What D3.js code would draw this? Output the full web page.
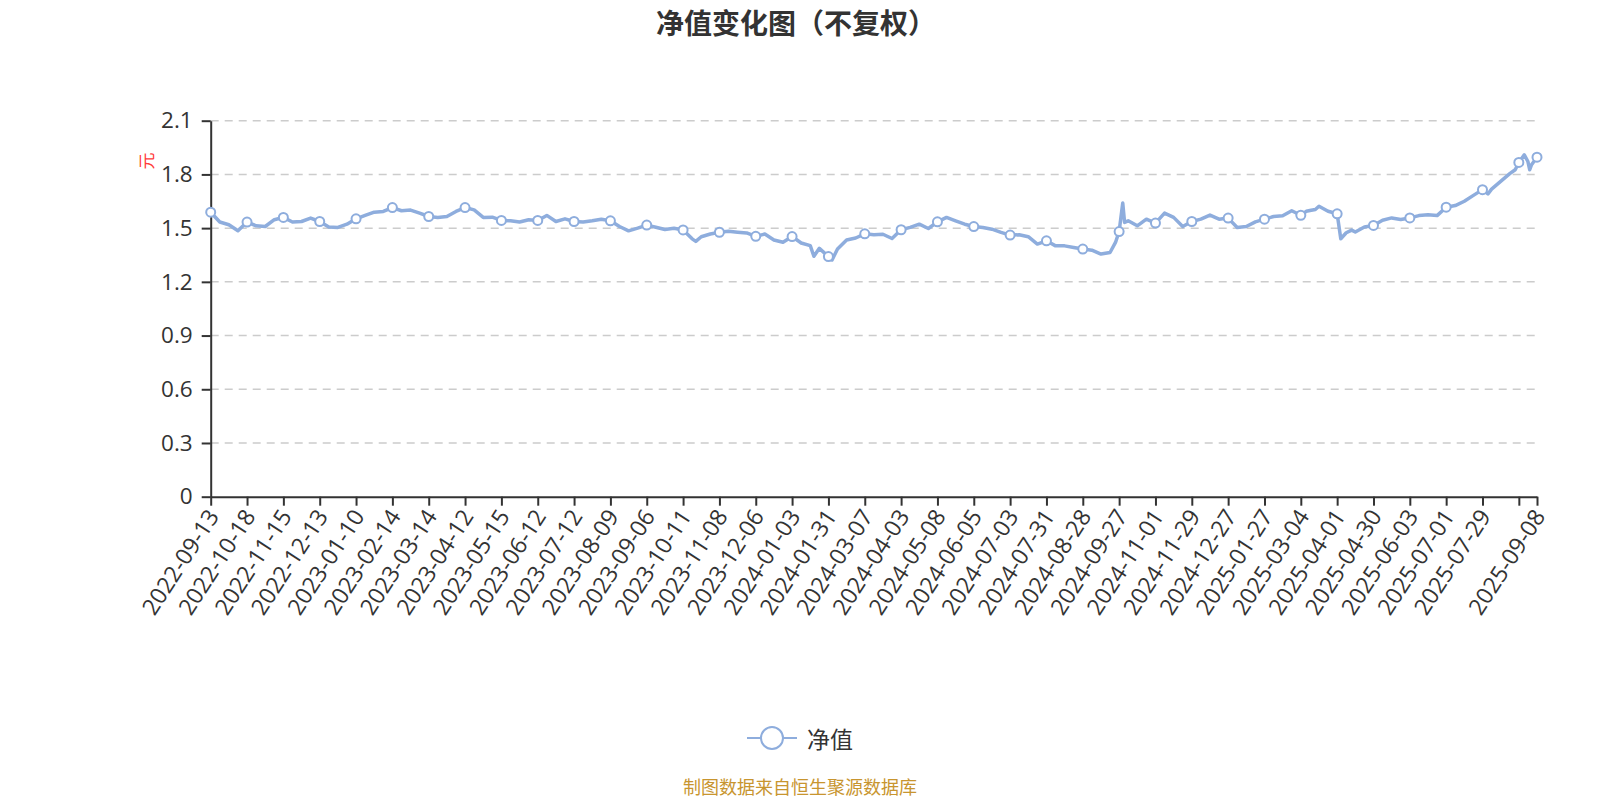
<!DOCTYPE html>
<html><head><meta charset="utf-8">
<script src="https://cdn.jsdelivr.net/npm/d3@7"></script>
<style>body{margin:0;background:#fff;} svg{display:block;}</style>
</head><body>
<svg id="chart" width="1600" height="800"></svg>
<script>
// ---- data ----
const tickIndex = [0,20,40,60,80,100,120,140,160,180,200,220,240,260,280,300,320,340,360,380,400,420,440,460,480,500,520,540,560,580,600,620,640,660,680,700,720,730];
const tickLabels = ["2022-09-13","2022-10-18","2022-11-15","2022-12-13","2023-01-10","2023-02-14","2023-03-14","2023-04-12","2023-05-15","2023-06-12","2023-07-12","2023-08-09","2023-09-06","2023-10-11","2023-11-08","2023-12-06","2024-01-03","2024-01-31","2024-03-07","2024-04-03","2024-05-08","2024-06-05","2024-07-03","2024-07-31","2024-08-28","2024-09-27","2024-11-01","2024-11-29","2024-12-27","2025-01-27","2025-03-04","2025-04-01","2025-04-30","2025-06-03","2025-07-01","2025-07-29","","2025-09-08"];
const yTicks = [0,0.3,0.6,0.9,1.2,1.5,1.8,2.1];
const dayIndex = [0,5,10,15,20,25,30,35,40,45,50,55,60,65,70,75,80,85,90,95,100,105,110,115,120,125,130,135,140,145,150,155,160,165,170,175,180,185,190,195,200,205,210,215,220,225,230,235,240,245,250,255,260,265,267,270,275,280,285,290,295,300,305,310,315,320,325,330,332,335,340,342,345,350,355,360,365,370,375,380,385,390,395,400,405,410,415,420,425,430,435,440,445,450,455,460,465,470,475,480,485,490,495,498,500,502,503,505,510,515,520,525,530,535,540,545,550,555,560,565,570,575,580,585,590,595,600,603,605,608,610,615,620,622,625,628,630,635,640,645,650,655,660,665,670,675,680,685,690,695,700,703,705,710,715,718,720,723,725,726,727,730];
const navValues = [1.589,1.534,1.519,1.485,1.534,1.513,1.509,1.547,1.560,1.534,1.537,1.556,1.537,1.506,1.504,1.522,1.552,1.571,1.589,1.593,1.615,1.597,1.601,1.584,1.565,1.560,1.565,1.593,1.615,1.602,1.560,1.561,1.543,1.541,1.534,1.547,1.543,1.571,1.537,1.552,1.537,1.534,1.541,1.550,1.541,1.509,1.485,1.500,1.517,1.505,1.492,1.499,1.490,1.440,1.426,1.452,1.467,1.477,1.482,1.477,1.473,1.454,1.467,1.434,1.421,1.453,1.417,1.402,1.343,1.387,1.341,1.322,1.384,1.434,1.445,1.468,1.463,1.466,1.442,1.491,1.504,1.522,1.498,1.535,1.560,1.541,1.522,1.509,1.504,1.494,1.476,1.461,1.463,1.452,1.411,1.429,1.401,1.401,1.392,1.383,1.377,1.355,1.364,1.420,1.481,1.640,1.532,1.541,1.513,1.550,1.528,1.584,1.560,1.509,1.537,1.550,1.573,1.550,1.556,1.504,1.509,1.535,1.550,1.565,1.569,1.597,1.572,1.594,1.598,1.604,1.622,1.594,1.580,1.441,1.474,1.489,1.478,1.506,1.515,1.544,1.557,1.548,1.557,1.570,1.575,1.570,1.617,1.626,1.650,1.683,1.715,1.691,1.718,1.761,1.804,1.826,1.867,1.909,1.872,1.826,1.854,1.896];
const seriesName = "净值";
const unitLabel = "元";
const titleText = "净值变化图（不复权）";
const footerText = "制图数据来自恒生聚源数据库";

// ---- drawing ----
(function () {
const FONT = "'Open Sans','Noto Sans CJK SC',sans-serif";
const CJK = "'Noto Sans CJK SC','Open Sans',sans-serif";
const lineColor = "#8eaddd";
const svg = d3.select("#chart");
const pLeft = 210.7, pRight = 1537, pTop = 120.7, pBottom = 496.7;
const x = d3.scaleLinear().domain([0, 730]).range([pLeft, pRight]);
const y = d3.scaleLinear().domain([0, 2.1]).range([pBottom, pTop]);

svg.append("text").attr("x", 796).attr("y", 34).attr("text-anchor", "middle")
  .attr("font-family", CJK).attr("font-weight", "bold").attr("font-size", 28).attr("fill", "#333")
  .text(titleText);

// grid
svg.append("g").selectAll("line").data(yTicks.filter(d => d > 0)).join("line")
  .attr("x1", pLeft).attr("x2", pRight).attr("y1", d => y(d)).attr("y2", d => y(d))
  .attr("stroke", "#cccccc").attr("stroke-width", 1.5).attr("stroke-dasharray", "8,6");

// y axis
const yAxis = svg.append("g").attr("transform", `translate(${pLeft},0)`)
  .call(d3.axisLeft(y).tickValues(yTicks).tickSize(9).tickSizeOuter(0).tickPadding(9)
    .tickFormat(d => d === 0 ? "0" : d.toFixed(1)));
yAxis.select(".domain").attr("stroke", "#333").attr("stroke-width", 2);
yAxis.selectAll(".tick line").attr("stroke", "#333").attr("stroke-width", 2);
yAxis.selectAll("text").attr("font-family", FONT).attr("font-size", 22.5).attr("fill", "#333");

// x axis
const xAxis = svg.append("g").attr("transform", `translate(0,${pBottom})`)
  .call(d3.axisBottom(x).tickValues(tickIndex).tickSize(9).tickSizeOuter(0)
    .tickFormat((d, i) => tickLabels[i]));
xAxis.select(".domain").attr("stroke", "#333").attr("stroke-width", 2);
xAxis.selectAll(".tick line").attr("stroke", "#333").attr("stroke-width", 2);
xAxis.selectAll("text").attr("font-family", FONT).attr("font-size", 23).attr("fill", "#333")
  .attr("x", 0).attr("y", 0).attr("dy", "0.35em").attr("text-anchor", "end")
  .attr("transform", "translate(2,15) rotate(-57)");

// unit label
svg.append("text").attr("transform", "translate(148,161) rotate(-90)")
  .attr("text-anchor", "middle").attr("dominant-baseline", "middle")
  .attr("font-family", CJK).attr("font-size", 17).attr("fill", "#ff3b3b").text(unitLabel);

// line
const pts = dayIndex.map((d, i) => [d, navValues[i]]);
svg.append("path").datum(pts)
  .attr("d", d3.line().x(d => x(d[0])).y(d => y(d[1])))
  .attr("fill", "none").attr("stroke", lineColor).attr("stroke-width", 3.5).attr("stroke-linejoin", "round");

svg.append("g").selectAll("circle").data(pts.filter(p => tickIndex.includes(p[0]))).join("circle")
  .attr("cx", d => x(d[0])).attr("cy", d => y(d[1])).attr("r", 4.5)
  .attr("fill", "#fff").attr("stroke", lineColor).attr("stroke-width", 2);

// legend
const lg = svg.append("g");
lg.append("line").attr("x1", 747).attr("x2", 797).attr("y1", 738).attr("y2", 738)
  .attr("stroke", lineColor).attr("stroke-width", 2);
lg.append("circle").attr("cx", 772).attr("cy", 738).attr("r", 11)
  .attr("fill", "#fff").attr("stroke", lineColor).attr("stroke-width", 2);
lg.append("text").attr("x", 807).attr("y", 738).attr("dominant-baseline", "central")
  .attr("font-family", CJK).attr("font-size", 23).attr("fill", "#333").text(seriesName);

// footer
svg.append("text").attr("x", 800).attr("y", 794).attr("text-anchor", "middle")
  .attr("font-family", CJK).attr("font-size", 18).attr("fill", "#c8952f").text(footerText);
})();
</script>
</body></html>
